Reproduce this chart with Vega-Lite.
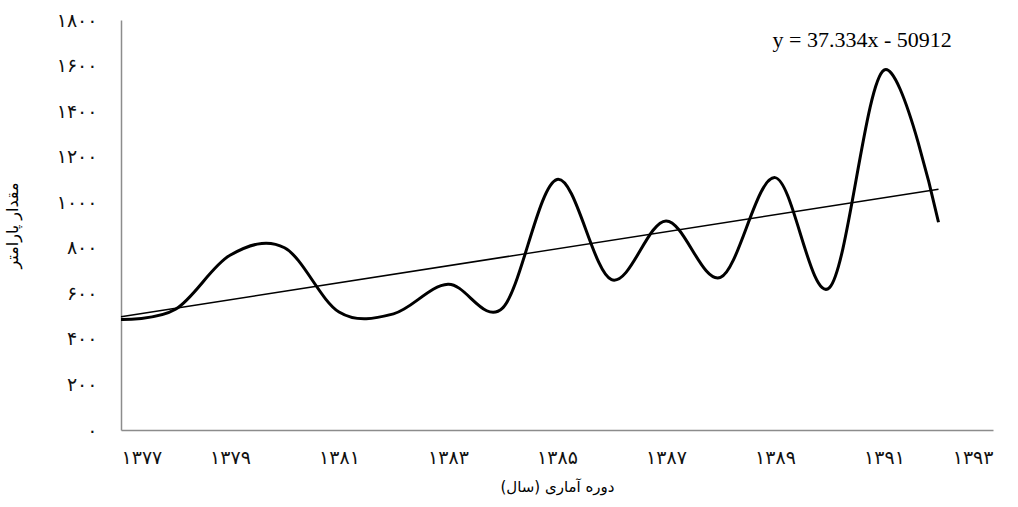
{
  "$schema": "https://vega.github.io/schema/vega-lite/v6.json",
  "autosize": "none",
  "width": 872,
  "height": 410,
  "padding": {"left": 121, "top": 20, "right": 25, "bottom": 77},
  "background": "white",
  "config": {"view": {"stroke": null}, "font": "DejaVu Sans"},
  "datasets": {
    "series": [
      {"year": 1377, "value": 485},
      {"year": 1378, "value": 530},
      {"year": 1379, "value": 767},
      {"year": 1380, "value": 800},
      {"year": 1381, "value": 518},
      {"year": 1382, "value": 510},
      {"year": 1383, "value": 640},
      {"year": 1384, "value": 535},
      {"year": 1385, "value": 1100},
      {"year": 1386, "value": 660},
      {"year": 1387, "value": 918},
      {"year": 1388, "value": 670},
      {"year": 1389, "value": 1108},
      {"year": 1390, "value": 625},
      {"year": 1391, "value": 1580},
      {"year": 1392, "value": 912}
    ],
    "trend": [
      {"year": 1377, "value": 496.9},
      {"year": 1392, "value": 1056.9}
    ],
    "eq": [
      {"year": 1390.6, "value": 1712, "label": "y = 37.334x - 50912"}
    ]
  },
  "layer": [
    {
      "data": {"name": "series"},
      "mark": {"type": "line", "interpolate": "cardinal", "tension": 0, "color": "black", "strokeWidth": 3},
      "encoding": {
        "x": {
          "field": "year", "type": "quantitative",
          "scale": {"domain": [1377, 1393], "nice": false, "zero": false},
          "axis": {
            "title": "دوره آماری (سال)",
            "titleFontSize": 15, "titleFontWeight": "normal", "titleColor": "black", "titlePadding": 12,
            "values": [1377, 1379, 1381, 1383, 1385, 1387, 1389, 1391, 1393],
            "format": "d",
            "labelExpr": "replace(replace(replace(replace(replace(replace(replace(replace(replace(replace(datum.label,regexp('0','g'),'۰'),regexp('1','g'),'۱'),regexp('2','g'),'۲'),regexp('3','g'),'۳'),regexp('4','g'),'۴'),regexp('5','g'),'۵'),regexp('6','g'),'۶'),regexp('7','g'),'۷'),regexp('8','g'),'۸'),regexp('9','g'),'۹')",
            "labelFontSize": 19, "labelColor": "#111111", "labelPadding": 18,
            "ticks": false, "grid": false,
            "domainColor": "#8c8c8c", "domainWidth": 1.5
          }
        },
        "y": {
          "field": "value", "type": "quantitative",
          "scale": {"domain": [0, 1800], "nice": false},
          "axis": {
            "title": "مقدار پارامتر",
            "titleFontSize": 16, "titleFontWeight": "normal", "titleColor": "black", "titlePadding": 36,
            "values": [0, 200, 400, 600, 800, 1000, 1200, 1400, 1600, 1800],
            "format": "d",
            "labelExpr": "replace(replace(replace(replace(replace(replace(replace(replace(replace(replace(datum.label,regexp('0','g'),'۰'),regexp('1','g'),'۱'),regexp('2','g'),'۲'),regexp('3','g'),'۳'),regexp('4','g'),'۴'),regexp('5','g'),'۵'),regexp('6','g'),'۶'),regexp('7','g'),'۷'),regexp('8','g'),'۸'),regexp('9','g'),'۹')",
            "labelFontSize": 19, "labelColor": "#111111", "labelPadding": 24,
            "ticks": false, "grid": false,
            "domainColor": "#8c8c8c", "domainWidth": 1.5
          }
        }
      }
    },
    {
      "data": {"name": "trend"},
      "mark": {"type": "line", "color": "black", "strokeWidth": 1.5},
      "encoding": {
        "x": {"field": "year", "type": "quantitative"},
        "y": {"field": "value", "type": "quantitative"}
      }
    },
    {
      "data": {"name": "eq"},
      "mark": {"type": "text", "font": "Liberation Serif", "fontSize": 22, "color": "black"},
      "encoding": {
        "x": {"field": "year", "type": "quantitative"},
        "y": {"field": "value", "type": "quantitative"},
        "text": {"field": "label"}
      }
    }
  ]
}
